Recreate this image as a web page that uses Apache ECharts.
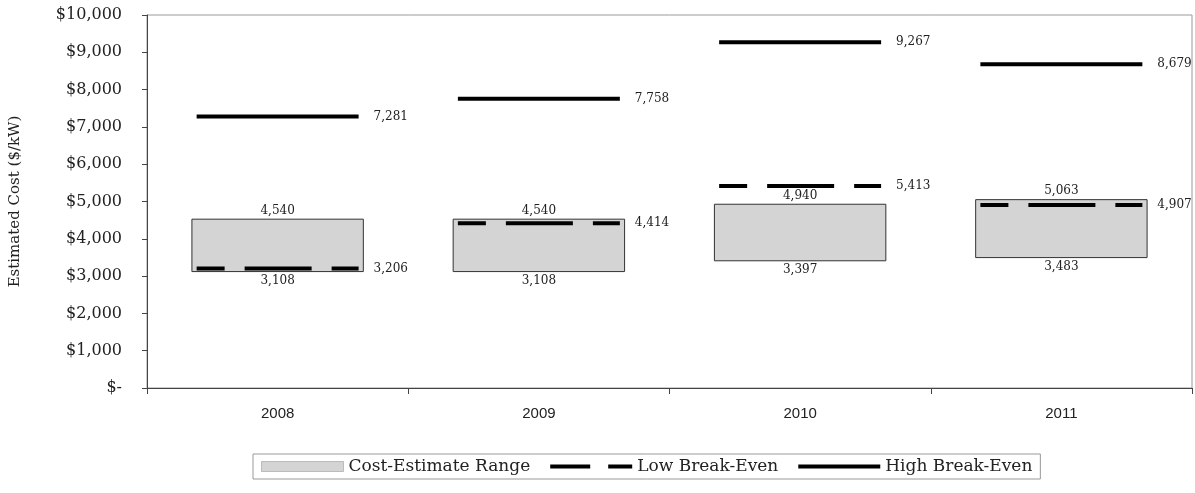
<!DOCTYPE html>
<html>
<head>
<meta charset="utf-8">
<script src="https://cdn.jsdelivr.net/npm/echarts@6/dist/echarts.min.js"></script>
<style>html,body{margin:0;padding:0;background:#fff}#c{width:1195px;height:493px}</style>
</head>
<body>
<div id="c"></div>
<script>
const years = ['2008', '2009', '2010', '2011'];
const rangeLow = [3108, 3108, 3397, 3483];
const rangeHigh = [4540, 4540, 4940, 5063];
const lowBreakEven = [3206, 4414, 5413, 4907];
const highBreakEven = [7281, 7758, 9267, 8679];
const yTicks = [0, 1000, 2000, 3000, 4000, 5000, 6000, 7000, 8000, 9000, 10000];

const fmt = v => v.toLocaleString('en-US');
const serif = 'DejaVu Serif';

function lineItem(dash) {
  return function (params, api) {
    const p = api.coord([api.value(0), api.value(1)]);
    const w = api.size([1, 0])[0] * 0.62;
    return {
      type: 'group',
      children: [
        { type: 'line', shape: { x1: p[0] - w / 2, y1: p[1], x2: p[0] + w / 2, y2: p[1] },
          style: { stroke: '#000', lineWidth: 4, lineDash: dash } },
        { type: 'text', x: p[0] + w / 2 + 15, y: p[1],
          style: { text: fmt(api.value(1)), fill: '#222', font: '12px "' + serif + '"', textVerticalAlign: 'middle' } }
      ]
    };
  };
}

const chart = echarts.init(document.getElementById('c'), null, { renderer: 'canvas' });
chart.setOption({
  animation: false,
  grid: { left: 143, right: 3, top: 15, bottom: 105, show: true, borderColor: '#999', borderWidth: 1 },
  xAxis: {
    type: 'category', data: years, boundaryGap: true,
    axisLine: { lineStyle: { color: '#444', width: 1 } },
    axisTick: { show: true, length: 6, lineStyle: { color: '#444' } },
    axisLabel: { margin: 18, fontFamily: 'Liberation Sans', fontSize: 15, color: '#222' }
  },
  yAxis: {
    type: 'value', min: yTicks[0], max: yTicks[yTicks.length - 1], interval: 1000,
    name: 'Estimated Cost ($/kW)', nameLocation: 'middle', nameGap: 124,
    nameTextStyle: { fontFamily: serif, fontSize: 15, color: '#222' },
    splitLine: { show: false },
    axisLine: { show: true, lineStyle: { color: '#444', width: 1 } },
    axisTick: { show: true, length: 5, lineStyle: { color: '#444' } },
    axisLabel: { margin: 25, fontFamily: serif, fontSize: 16, color: '#222',
      formatter: v => v === 0 ? '$-' : '$' + fmt(v) }
  },
  legend: {
    left: 253, top: 454, orient: 'horizontal',
    borderColor: '#999', borderWidth: 1, padding: [4, 8, 4, 8],
    itemWidth: 82, itemHeight: 10, itemGap: 20, symbolKeepAspect: false,
    textStyle: { fontFamily: serif, fontSize: 17, color: '#222' },
    data: [
      { name: 'Cost-Estimate Range', icon: 'rect', itemStyle: { color: '#d4d4d4', borderColor: '#bbb', borderWidth: 1 } },
      { name: 'Low Break-Even', icon: 'path://M0,0h0.01v0.01H0zM0,10h0.01v0.01H0zM82,0h0.01v0.01H82zM0,3h40v4H0zM58,3h24v4H58z', itemStyle: { color: '#000' } },
      { name: 'High Break-Even', icon: 'path://M0,0h0.01v0.01H0zM0,10h0.01v0.01H0zM82,0h0.01v0.01H82zM0,3h82v4H0z', itemStyle: { color: '#000' } }
    ]
  },
  series: [
    {
      name: 'base', type: 'bar', stack: 'r', barWidth: '66%', silent: true,
      data: rangeLow,
      itemStyle: { color: 'transparent' },
      label: { show: true, position: 'insideTop', distance: 3, formatter: p => fmt(p.value),
        fontFamily: serif, fontSize: 12, color: '#222' }
    },
    {
      name: 'Cost-Estimate Range', type: 'bar', stack: 'r', barWidth: '66%',
      data: rangeHigh.map((h, i) => h - rangeLow[i]),
      itemStyle: { color: '#d4d4d4', borderColor: '#333', borderWidth: 1 },
      label: { show: true, position: 'top', distance: 2, formatter: p => fmt(rangeHigh[p.dataIndex]),
        fontFamily: serif, fontSize: 12, color: '#222' }
    },
    {
      name: 'Low Break-Even', type: 'custom', renderItem: lineItem([28, 20, 67, 20]),
      itemStyle: { color: '#000' },
      data: lowBreakEven.map((v, i) => [i, v]), z: 5
    },
    {
      name: 'High Break-Even', type: 'custom', renderItem: lineItem(null),
      itemStyle: { color: '#000' },
      data: highBreakEven.map((v, i) => [i, v]), z: 5
    }
  ]
});
</script>
</body>
</html>
